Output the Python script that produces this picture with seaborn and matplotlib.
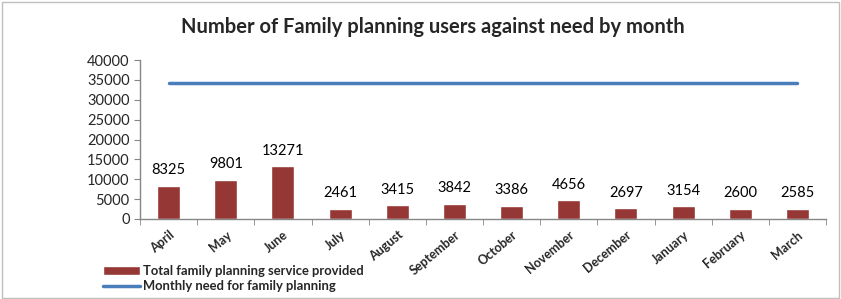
import matplotlib
matplotlib.use("Agg")
import matplotlib.pyplot as plt
import pandas as pd
import seaborn as sns
from matplotlib.patches import Rectangle

# data
MONTHS = ["April", "May", "June", "July", "August", "September", "October",
          "November", "December", "January", "February", "March"]
SERVICE_PROVIDED = [8325, 9801, 13271, 2461, 3415, 3842, 3386, 4656, 2697, 3154, 2600, 2585]
MONTHLY_NEED = [34200] * 12

BAR_COLOR = "#953735"
LINE_COLOR = "#4A7EBB"

sns.set_style("white")
plt.rcParams["font.family"] = ["Lato", "DejaVu Sans"]

df = pd.DataFrame({"month": MONTHS, "provided": SERVICE_PROVIDED, "need": MONTHLY_NEED})

fig = plt.figure(figsize=(8.41, 2.99), dpi=100)
ax = fig.add_axes([140 / 841, 1 - 219 / 299, 686 / 841, 159 / 299])

sns.barplot(data=df, x="month", y="provided", color=BAR_COLOR, width=0.4,
            saturation=1, ax=ax, label="Total family planning service provided")
ax.plot(range(len(MONTHS)), df["need"], color=LINE_COLOR, lw=2.5,
        label="Monthly need for family planning")
if ax.get_legend() is not None:
    ax.get_legend().remove()

for i, v in enumerate(SERVICE_PROVIDED):
    ax.text(i, v + 2200, str(v), ha="center", va="bottom", fontsize=10.5, color="black")

ax.set_ylim(0, 40000)
ax.set_yticks(range(0, 40001, 5000))
ax.set_xlim(-0.5, len(MONTHS) - 0.5)
ax.set_xlabel("")
ax.set_ylabel("")
ax.set_xticks([x - 0.5 for x in range(len(MONTHS) + 1)], minor=True)
ax.set_xticks(range(len(MONTHS)))
ax.set_xticklabels(MONTHS, rotation=40, ha="right", rotation_mode="anchor",
                   fontsize=9, fontweight="bold")
ax.tick_params(axis="x", which="major", length=0, pad=7)
ax.tick_params(axis="x", which="minor", length=4, color="#868686", direction="out", bottom=True)
ax.tick_params(axis="y", length=4, color="#868686", direction="out", left=True, labelsize=10.5)

for side in ["top", "right"]:
    ax.spines[side].set_visible(False)
for side in ["left", "bottom"]:
    ax.spines[side].set_color("#868686")
    ax.spines[side].set_linewidth(1)

fig.text(433 / 841, 1 - 27 / 299, "Number of Family planning users against need by month",
         ha="center", va="center", fontsize=14.5, fontweight="bold")

handles, labels = ax.get_legend_handles_labels()
order = [labels.index("Total family planning service provided"),
         labels.index("Monthly need for family planning")]
leg = fig.legend([handles[i] for i in order], [labels[i] for i in order],
                 loc="lower left", bbox_to_anchor=(96 / 841, 0.0),
                 frameon=False, fontsize=9.4, handlelength=2.9, handletextpad=0.2,
                 labelspacing=0.25, borderaxespad=0.1)
for t in leg.get_texts():
    t.set_fontweight("bold")

fig.patches.append(Rectangle((0.002, 0.004), 0.996, 0.99, transform=fig.transFigure,
                             fill=False, edgecolor="#BFBFBF", lw=1))

fig.savefig("out.png", dpi=100)
